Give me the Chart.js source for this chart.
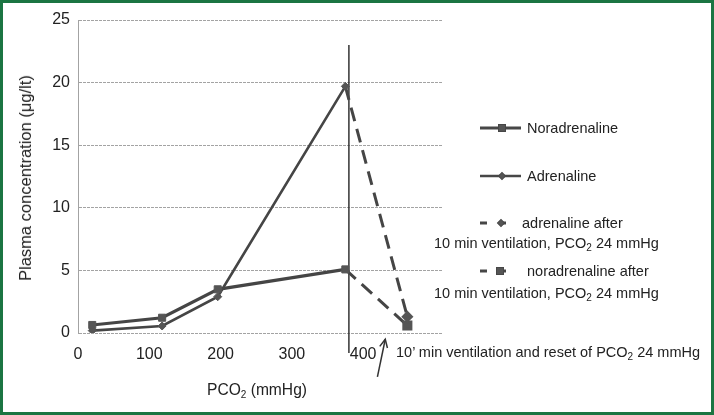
<!DOCTYPE html>
<html>
<head>
<meta charset="utf-8">
<script src="https://cdn.jsdelivr.net/npm/chart.js@4.4.0/dist/chart.umd.min.js"></script>
<style>
  body { margin: 0; background: #fff; }
  #wrap { position: relative; width: 714px; height: 415px; font-family: "Liberation Sans", Arial, sans-serif; color: #222; }
  #frame { position: absolute; left: 0; top: 0; width: 714px; height: 415px; box-sizing: border-box; border: 3px solid #1b7542; pointer-events: none; }
  .txt { position: absolute; white-space: nowrap; font-size: 14.5px; line-height: 18px; transform: translateY(-50%); }
  .txt sub { font-size: 10px; vertical-align: -3px; line-height: 0; }
  #ytitle { left: 25px; top: 178px; font-size: 16.5px; transform: translate(-50%, -50%) rotate(-90deg); }
  #xtitle { left: 257px; top: 390px; font-size: 15.6px; transform: translate(-50%, -50%); }
  #keys { position: absolute; left: 470px; top: 110px; }
</style>
</head>
<body>
<div id="wrap">
  <canvas id="chart" width="714" height="415"></canvas>
  <div class="txt" id="ytitle">Plasma concentration (μg/lt)</div>
  <div class="txt" id="xtitle">PCO<sub>2</sub> (mmHg)</div>
  <div class="txt" style="left:396px; top:352px;">10’ min ventilation and reset of PCO<sub>2</sub> 24 mmHg</div>

  <svg id="keys" width="60" height="200">
    <g stroke="#474747" fill="#555">
      <line x1="10" y1="18" x2="51" y2="18" stroke-width="3"/>
      <rect x="28.5" y="14.5" width="7" height="7"/>
      <line x1="10" y1="66" x2="51" y2="66" stroke-width="2.5"/>
      <rect x="29.5" y="63.5" width="5" height="5" transform="rotate(45 32 66)"/>
      <line x1="10" y1="113" x2="17" y2="113" stroke-width="3"/>
      <line x1="29" y1="113" x2="36" y2="113" stroke-width="3"/>
      <rect x="28.5" y="110.5" width="5" height="5" transform="rotate(45 31 113)"/>
      <line x1="10" y1="161" x2="17" y2="161" stroke-width="3"/>
      <line x1="29" y1="161" x2="36" y2="161" stroke-width="3"/>
      <rect x="26.5" y="157.5" width="7" height="7"/>
    </g>
  </svg>
  <div class="txt" style="left:527px; top:128px;">Noradrenaline</div>
  <div class="txt" style="left:527px; top:176px;">Adrenaline</div>
  <div class="txt" style="left:522px; top:223px;">adrenaline after</div>
  <div class="txt" style="left:434px; top:243px;">10 min ventilation, PCO<sub>2</sub> 24 mmHg</div>
  <div class="txt" style="left:527px; top:271px;">noradrenaline after</div>
  <div class="txt" style="left:434px; top:293px;">10 min ventilation, PCO<sub>2</sub> 24 mmHg</div>
  <div id="frame"></div>
</div>
<script>
// PCO2 (mmHg) against plasma concentration (ug/lt)
var pco2 = [20, 118, 196, 375]
var noradrenaline = [0.64, 1.22, 3.49, 5.08]
var adrenaline = [0.19, 0.56, 2.9, 19.7]
var afterPco2 = [375, 462]
var adrenalineAfter = [19.7, 1.3]
var noradrenalineAfter = [5.08, 0.6]
// vertical reset line and the arrow under the axis, in data units
var resetX = [380, 380], resetY = [-1.6, 23]
var arrowX = [420, 431], arrowY = [-3.5, -0.5]
var xTickLabels = [0, 100, 200, 300, 400]
var yTickLabels = [0, 5, 10, 15, 20, 25]

function pts(xs, ys) {
    return xs.map(function (x, i) { return { x: x, y: ys[i] } })
}

var lineColor = '#454545'
var font = { family: '"Liberation Sans", Arial, sans-serif', size: 16 }

// open arrow head on the last dataset
var arrowHead = {
    id: 'arrowHead',
    afterDatasetsDraw: function (chart) {
        var meta = chart.getDatasetMeta(5)
        var a = meta.data[0], b = meta.data[1]
        var ang = Math.atan2(b.y - a.y, b.x - a.x)
        var ctx = chart.ctx
        ctx.save()
        ctx.strokeStyle = '#333'
        ctx.lineWidth = 1.5
        ctx.beginPath()
        ctx.moveTo(b.x - 9 * Math.cos(ang - 0.45), b.y - 9 * Math.sin(ang - 0.45))
        ctx.lineTo(b.x, b.y)
        ctx.lineTo(b.x - 9 * Math.cos(ang + 0.45), b.y - 9 * Math.sin(ang + 0.45))
        ctx.stroke()
        ctx.restore()
    }
}

var ctx = document.getElementById('chart').getContext('2d')
var myChart = new Chart(ctx, {
    type: 'line',
    data: {
        datasets: [{
            label: 'Noradrenaline',
            data: pts(pco2, noradrenaline),
            borderColor: lineColor,
            borderWidth: 3.2,
            pointStyle: 'rect',
            pointRadius: 5,
            pointBackgroundColor: '#555',
            pointBorderColor: '#555',
            pointBorderWidth: 1
        }, {
            label: 'Adrenaline',
            data: pts(pco2, adrenaline),
            borderColor: lineColor,
            borderWidth: 2.6,
            pointStyle: 'rectRot',
            pointRadius: 4,
            pointBackgroundColor: '#555',
            pointBorderColor: '#555',
            pointBorderWidth: 1
        }, {
            label: 'adrenaline after',
            data: pts(afterPco2, adrenalineAfter),
            borderColor: lineColor,
            borderWidth: 3,
            borderDash: [14, 8],
            pointStyle: 'rectRot',
            pointRadius: [0, 4],
            pointBackgroundColor: '#555',
            pointBorderColor: '#555'
        }, {
            label: 'noradrenaline after',
            data: pts(afterPco2, noradrenalineAfter),
            borderColor: lineColor,
            borderWidth: 3,
            borderDash: [14, 8],
            pointStyle: 'rect',
            pointRadius: [0, 5],
            pointBackgroundColor: '#555',
            pointBorderColor: '#555'
        }, {
            label: 'reset',
            data: pts(resetX, resetY),
            borderColor: '#333',
            borderWidth: 1.5,
            pointRadius: 0,
            clip: false
        }, {
            label: 'arrow',
            data: pts(arrowX, arrowY),
            borderColor: '#333',
            borderWidth: 1.5,
            pointRadius: 0,
            clip: false
        }]
    },
    options: {
        responsive: false,
        devicePixelRatio: 1,
        animation: false,
        layout: { padding: { top: 20, right: 271, left: 0, bottom: 0 } },
        plugins: {
            legend: { display: false },
            tooltip: { enabled: false }
        },
        elements: { line: { tension: 0 } },
        scales: {
            x: {
                type: 'linear',
                min: 0,
                max: 512,
                grid: { display: false },
                border: { display: false },
                ticks: {
                    stepSize: 100,
                    padding: 4,
                    color: '#222',
                    font: font,
                    maxRotation: 0,
                    callback: function (v) { return xTickLabels.indexOf(v) >= 0 ? v : '' }
                },
                afterFit: function (scale) { scale.height = 82 }
            },
            y: {
                min: 0,
                max: 25,
                grid: { color: '#a3a3a3', lineWidth: 1, drawTicks: false },
                border: { display: true, color: '#a3a3a3', width: 1, dash: [3, 1] },
                ticks: {
                    stepSize: 5,
                    padding: 8,
                    color: '#222',
                    font: font,
                    callback: function (v) { return yTickLabels.indexOf(v) >= 0 ? v : '' }
                },
                afterFit: function (scale) { scale.width = 78 }
            }
        }
    },
    plugins: [arrowHead]
})
</script>
</body>
</html>
